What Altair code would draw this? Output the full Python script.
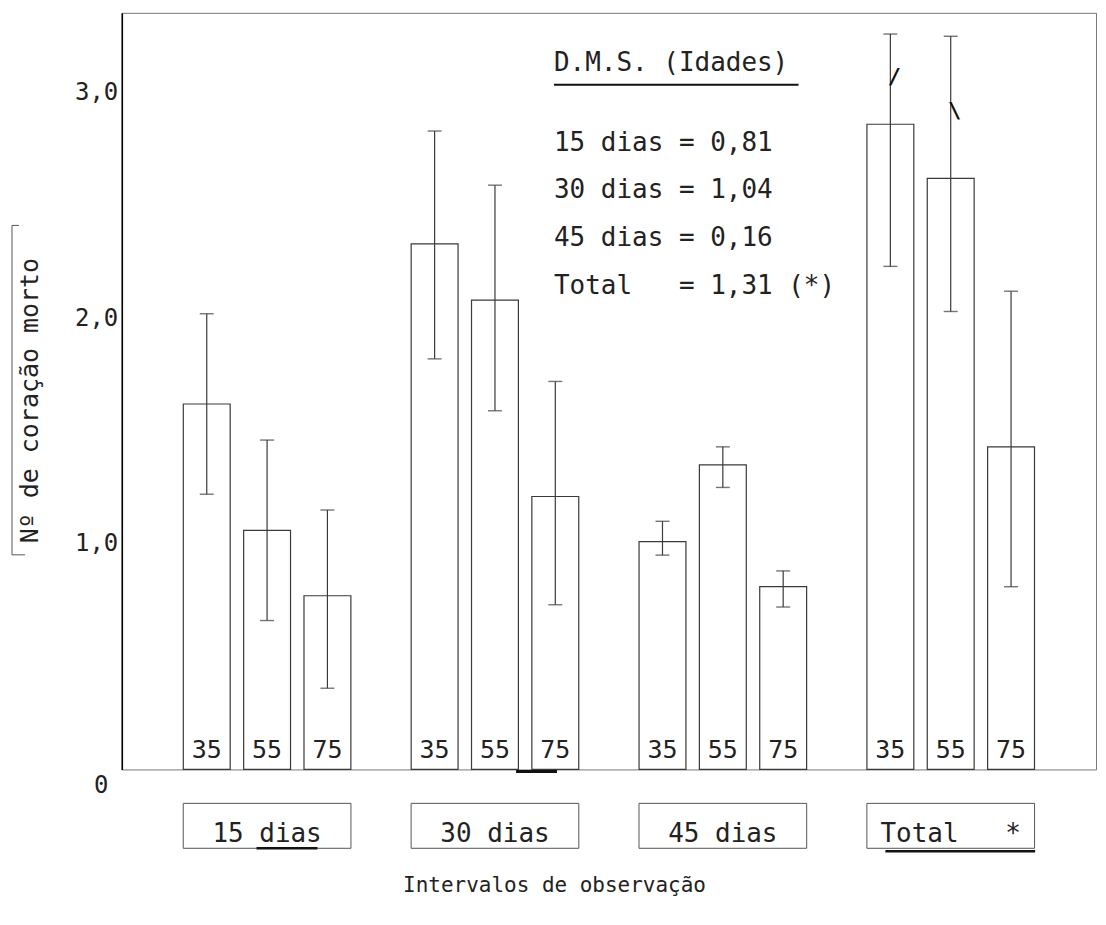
import altair as alt
import pandas as pd

# ---- data ----
groups = ["15 dias", "30 dias", "45 dias", "Total\u00a0\u00a0\u00a0*"]
ages = ["35", "55", "75"]

mean_15 = [1.62, 1.06, 0.77]
mean_30 = [2.33, 2.08, 1.21]
mean_45 = [1.01, 1.35, 0.81]
mean_tot = [2.86, 2.62, 1.43]

low_15 = [1.22, 0.66, 0.36]
low_30 = [1.82, 1.59, 0.73]
low_45 = [0.95, 1.25, 0.72]
low_tot = [2.23, 2.03, 0.81]

up_15 = [2.02, 1.46, 1.15]
up_30 = [2.83, 2.59, 1.72]
up_45 = [1.10, 1.43, 0.88]
up_tot = [3.26, 3.25, 2.12]

# slash marks drawn across the long "Total" error bars
break_age = ["35", "55"]
break_val = [3.07, 2.92]
break_sym = ["/", "\\"]

y_ticks = [0, 1, 2, 3]

dms_title = "D.M.S. (Idades)"
dms_lines = [
    "15 dias = 0,81",
    "30 dias = 1,04",
    "45 dias = 0,16",
    "Total\u00a0\u00a0\u00a0= 1,31 (*)",
]

means = [mean_15, mean_30, mean_45, mean_tot]
lows = [low_15, low_30, low_45, low_tot]
ups = [up_15, up_30, up_45, up_tot]

rows = []
for g, m, lo, up in zip(groups, means, lows, ups):
    for a, mv, lv, uv in zip(ages, m, lo, up):
        rows.append({"grupo": g, "idade": a, "media": mv, "inf": lv, "sup": uv, "zero": 0})
df = pd.DataFrame(rows)
gdf = pd.DataFrame({"grupo": groups})
bdf = pd.DataFrame({"grupo": [groups[3]] * len(break_age), "idade": break_age, "v": break_val, "s": break_sym})

FONT = "DejaVu Sans Mono"
INK = "#222222"
LINE = "#3a3a3a"

x_enc = alt.X(
    "grupo:N",
    sort=groups,
    scale=alt.Scale(paddingInner=0.2, paddingOuter=0.2376),
    axis=alt.Axis(
        title="Intervalos de observação",
        labelAngle=0,
        labelPadding=64,
        labelBaseline="middle",
        labelFontSize=26,
        titlePadding=28,
        titleFontSize=21,
        titleX=433,
        titleAnchor="start",
        titleAlign="center",
        domain=False,
        ticks=False,
    ),
)
xo_enc = alt.XOffset("idade:N", sort=ages, scale=alt.Scale(paddingInner=0.223, paddingOuter=0.122))
y_scale = alt.Scale(domain=[0, 3.354], nice=False, zero=True)

base = alt.Chart(df)

bars = base.mark_bar(fill="white", stroke=LINE, strokeWidth=1.2).encode(
    x=x_enc,
    xOffset=xo_enc,
    y=alt.Y(
        "media:Q",
        scale=y_scale,
        axis=alt.Axis(
            values=y_ticks,
            labelExpr="datum.value == 0 ? '0' : replace(format(datum.value, '.1f'), '.', ',')",
            labelFontSize=24,
            labelPadding={"condition": {"test": "datum.value == 0", "value": 14}, "value": 4},
            labelOffset={"condition": {"test": "datum.value == 0", "value": 16}, "value": 0},
            ticks=False,
            grid=False,
            domainColor="#000000",
            domainWidth=1.6,
            title="Nº de coração morto",
            titleFontSize=25,
            titleX=-92,
            titleY=388,
            titleAlign="center",
            titleBaseline="middle",
        ),
    ),
)

err = base.mark_rule(color=LINE, strokeWidth=1.2).encode(
    x=alt.X("grupo:N", sort=groups),
    xOffset=alt.XOffset("idade:N", sort=ages),
    y=alt.Y("inf:Q"),
    y2="sup:Q",
)
cap_top = base.mark_tick(color=LINE, size=14, thickness=1.4, orient="horizontal").encode(
    x=alt.X("grupo:N", sort=groups),
    xOffset=alt.XOffset("idade:N", sort=ages),
    y=alt.Y("sup:Q"),
)
cap_bot = base.mark_tick(color=LINE, size=14, thickness=1.4, orient="horizontal").encode(
    x=alt.X("grupo:N", sort=groups),
    xOffset=alt.XOffset("idade:N", sort=ages),
    y=alt.Y("inf:Q"),
)

age_labels = base.mark_text(font=FONT, fontSize=25, color=INK, baseline="bottom", dy=-6).encode(
    x=alt.X("grupo:N", sort=groups),
    xOffset=alt.XOffset("idade:N", sort=ages),
    y=alt.Y("zero:Q"),
    text="idade:N",
)

breaks = alt.Chart(bdf).mark_text(font=FONT, fontSize=22, fontWeight="bold", color="#111111", baseline="middle", dx=4).encode(
    x=alt.X("grupo:N", sort=groups),
    xOffset=alt.XOffset("idade:N", sort=ages),
    y=alt.Y("v:Q"),
    text="s:N",
)

# boxes around group labels
boxes = alt.Chart(gdf).mark_bar(width=168, fillOpacity=0, stroke="#555555", strokeWidth=1).encode(
    x=alt.X("grupo:N", sort=groups),
    y=alt.value(792),
    y2=alt.value(837),
)

layers = [bars, err, cap_top, cap_bot, age_labels, breaks, boxes]

# D.M.S. annotation
layers.append(
    alt.Chart(pd.DataFrame({"t": [dms_title]}))
    .mark_text(font=FONT, fontSize=26, color=INK, align="left", baseline="middle")
    .encode(text="t:N", x=alt.value(433), y=alt.value(50))
)
layers.append(
    alt.Chart(pd.DataFrame({"t": [dms_title]}))
    .mark_rule(color="#111111", strokeWidth=2)
    .encode(x=alt.value(433), x2=alt.value(678), y=alt.value(72))
)
for i, line in enumerate(dms_lines):
    layers.append(
        alt.Chart(pd.DataFrame({"t": [line]}))
        .mark_text(font=FONT, fontSize=26, color=INK, align="left", baseline="middle")
        .encode(text="t:N", x=alt.value(433), y=alt.value(130 + 48 * i))
    )

# bracket beside y title
deco = alt.Chart(pd.DataFrame({"t": ["deco"]}))
layers.append(deco.mark_rule(color="#555555", strokeWidth=1).encode(x=alt.value(-110), y=alt.value(213), y2=alt.value(543)))
layers.append(deco.mark_rule(color="#555555", strokeWidth=1).encode(x=alt.value(-110), x2=alt.value(-103), y=alt.value(213)))
layers.append(deco.mark_rule(color="#555555", strokeWidth=1).encode(x=alt.value(-110), x2=alt.value(-97), y=alt.value(543)))

# pen underlines present in the reference
layers.append(deco.mark_rule(color="#111111", strokeWidth=2.5).encode(x=alt.value(135), x2=alt.value(196), y=alt.value(837)))
layers.append(deco.mark_rule(color="#111111", strokeWidth=2.5).encode(x=alt.value(765), x2=alt.value(915), y=alt.value(840)))
layers.append(deco.mark_rule(color="#111111", strokeWidth=3).encode(x=alt.value(395), x2=alt.value(436), y=alt.value(760)))

chart = (
    alt.layer(*layers)
    .properties(
        width=976,
        height=758,
        autosize=alt.AutoSizeParams(type="none"),
        padding={"left": 114, "top": 4, "right": 2, "bottom": 147},
    )
    .configure_view(stroke="#777777", strokeWidth=1)
    .configure_axis(labelFont=FONT, titleFont=FONT, labelColor=INK, titleColor=INK, titleFontWeight="normal")
)

chart.save("out.html", embed_options={"renderer": "svg", "actions": False})
